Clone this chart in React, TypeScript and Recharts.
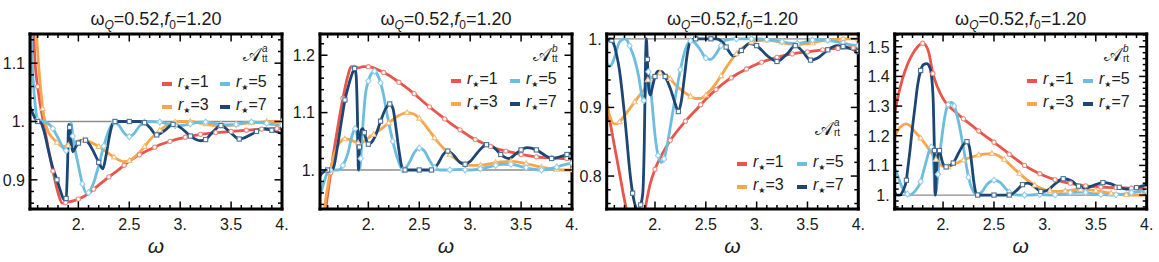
import { LineChart, Line, XAxis, YAxis, ReferenceLine, Legend } from 'recharts'

type Pt = [number, number, number?]

// values: [omega, value, 1 = numerical sample marker]
const p1Red: Pt[] = [[1.525,1.3],[1.55,1.2],[1.575,1.1],[1.6,1.06,1],[1.625,1.03],[1.655,1.0],[1.7,0.958],[1.75,0.915,1],[1.8,0.878],[1.84,0.86],[1.875,0.861,1],[1.9,0.862],[1.95,0.864],[2.0,0.867,1],[2.05,0.871],[2.1,0.877],[2.15,0.884,1],[2.2,0.891],[2.3,0.905,1],[2.4,0.918],[2.45,0.925,1],[2.5,0.932],[2.6,0.943,1],[2.7,0.952],[2.75,0.956,1],[2.8,0.96],[2.9,0.966,1],[3.0,0.971],[3.05,0.973,1],[3.2,0.978,1],[3.35,0.981,1],[3.5,0.983,1],[3.65,0.985,1],[3.8,0.987,1],[3.95,0.988,1],[4.0,0.988]]
const p1Orange: Pt[] = [[1.525,1.35],[1.55,1.27],[1.575,1.19],[1.6,1.12],[1.625,1.065],[1.65,1.022,1],[1.675,0.998],[1.7,0.984],[1.75,0.971],[1.79,0.964,1],[1.85,0.957],[1.9,0.959,1],[1.95,0.963],[2.0,0.967],[2.05,0.968,1],[2.1,0.966],[2.2,0.957,1],[2.3,0.945],[2.35,0.939,1],[2.45,0.931],[2.5,0.933,1],[2.6,0.947],[2.65,0.957,1],[2.7,0.968],[2.8,0.985,1],[2.9,0.996],[2.95,0.999,1],[3.0,1.0],[3.1,1.0,1],[3.2,0.997],[3.25,0.996,1],[3.3,0.994],[3.4,0.993,1],[3.5,0.994],[3.55,0.995,1],[3.6,0.996],[3.7,0.998,1],[3.8,0.999],[3.85,1.0,1],[3.9,1.0],[4.0,1.0,1]]
const p1Sky: Pt[] = [[1.525,1.2],[1.55,1.09],[1.575,1.03],[1.6,1.003,1],[1.625,1.0],[1.65,1.0],[1.7,0.997],[1.75,0.988,1],[1.8,0.972],[1.85,0.955],[1.88,0.95,1],[1.9,0.957],[1.915,0.98],[1.93,0.998],[1.945,0.975,1],[1.97,0.95],[2.0,0.925],[2.04,0.893,1],[2.08,0.877],[2.1,0.878,1],[2.15,0.895],[2.2,0.925],[2.25,0.958,1],[2.3,0.985],[2.35,0.999,1],[2.4,0.993],[2.45,0.98],[2.5,0.974,1],[2.55,0.98],[2.6,0.992],[2.65,0.999,1],[2.7,1.0],[2.8,0.999,1],[2.9,0.995],[2.95,0.993,1],[3.0,0.993],[3.1,0.996,1],[3.2,0.999],[3.25,0.999,1],[3.3,0.998],[3.4,0.995,1],[3.5,0.994],[3.55,0.995,1],[3.6,0.997],[3.7,0.999,1],[3.8,0.998],[3.85,0.997,1],[3.9,0.995],[4.0,0.994,1]]
const p1Navy: Pt[] = [[1.525,1.025],[1.55,1.015],[1.575,1.005],[1.6,1.0,1],[1.63,0.998],[1.675,0.975],[1.7,0.955],[1.75,0.92],[1.79,0.9,1],[1.83,0.878],[1.86,0.866],[1.88,0.868,1],[1.893,0.92],[1.905,0.995],[1.915,0.99,1],[1.93,0.962],[1.945,0.948],[1.97,0.955],[2.0,0.963,1],[2.05,0.968],[2.07,0.968,1],[2.1,0.963],[2.15,0.948],[2.2,0.93,1],[2.24,0.919],[2.27,0.94],[2.3,0.97],[2.33,0.993],[2.36,1.0,1],[2.45,1.0],[2.5,1.0,1],[2.6,1.0],[2.65,0.998,1],[2.7,0.99],[2.77,0.977,1],[2.85,0.985],[2.93,0.995,1],[3.0,0.99],[3.1,0.975,1],[3.2,0.967],[3.25,0.969,1],[3.3,0.978],[3.4,0.993,1],[3.5,0.98],[3.58,0.97,1],[3.7,0.978],[3.75,0.983,1],[3.8,0.988],[3.9,0.985,1],[4.0,0.979]]

const p2Red: Pt[] = [[1.525,0.8],[1.58,0.93],[1.6,0.957],[1.63,0.995,1],[1.65,1.02],[1.7,1.075],[1.75,1.125,1],[1.8,1.165],[1.83,1.18],[1.86,1.179,1],[1.9,1.178],[1.95,1.18],[2.0,1.18,1],[2.05,1.178],[2.1,1.174],[2.15,1.17,1],[2.2,1.165],[2.3,1.153,1],[2.4,1.14],[2.45,1.133,1],[2.5,1.125],[2.6,1.11,1],[2.7,1.096],[2.75,1.089,1],[2.8,1.082],[2.9,1.07,1],[3.0,1.058],[3.05,1.053,1],[3.1,1.049],[3.2,1.041,1],[3.3,1.035],[3.35,1.033,1],[3.4,1.031],[3.5,1.027,1],[3.6,1.024],[3.65,1.023,1],[3.7,1.022],[3.8,1.021,1],[3.9,1.02],[3.95,1.02,1],[4.0,1.019]]
const p2Orange: Pt[] = [[1.525,0.83],[1.55,0.89],[1.575,0.94],[1.6,0.97],[1.63,1.0,1],[1.67,1.03],[1.72,1.048],[1.77,1.054,1],[1.82,1.053],[1.87,1.049],[1.9,1.047,1],[1.92,1.046],[1.96,1.05],[2.0,1.056],[2.05,1.062,1],[2.1,1.068],[2.2,1.082,1],[2.3,1.095],[2.38,1.1,1],[2.45,1.097],[2.5,1.09,1],[2.6,1.068],[2.65,1.056,1],[2.7,1.045],[2.8,1.027,1],[2.9,1.014],[2.95,1.01,1],[3.0,1.008],[3.1,1.008,1],[3.2,1.011],[3.25,1.013,1],[3.3,1.014],[3.4,1.015,1],[3.5,1.013],[3.55,1.011,1],[3.6,1.009],[3.7,1.005,1],[3.8,1.002],[3.85,1.001,1],[3.9,1.0],[4.0,1.0,1]]
const p2Sky: Pt[] = [[1.525,0.955],[1.55,0.97],[1.575,0.985],[1.6,0.996],[1.625,1.0,1],[1.65,1.0],[1.7,1.0],[1.75,1.008,1],[1.8,1.03],[1.84,1.06],[1.87,1.072,1],[1.89,1.06],[1.905,1.02],[1.915,1.0],[1.925,1.02,1],[1.945,1.075],[1.97,1.13],[2.0,1.155,1],[2.03,1.168],[2.06,1.172,1],[2.09,1.166],[2.12,1.152,1],[2.15,1.13],[2.18,1.1],[2.24,1.05,1],[2.29,1.018],[2.34,1.0,1],[2.4,1.012],[2.45,1.03],[2.5,1.038,1],[2.55,1.033],[2.6,1.017],[2.65,1.004,1],[2.7,1.0],[2.8,1.0,1],[2.9,1.001],[2.95,1.0,1],[3.0,1.0],[3.1,1.002,1],[3.2,1.006],[3.25,1.008,1],[3.3,1.01],[3.4,1.01,1],[3.5,1.006],[3.55,1.004,1],[3.6,1.002],[3.7,1.0,1],[3.8,1.003],[3.85,1.005,1],[3.9,1.008],[4.0,1.012,1]]
const p2Navy: Pt[] = [[1.525,0.99],[1.55,0.995],[1.6,1.0,1],[1.64,1.0],[1.66,1.005],[1.7,1.045],[1.74,1.09],[1.77,1.122,1],[1.81,1.15],[1.85,1.172],[1.865,1.177,1],[1.88,1.165],[1.892,1.1],[1.903,1.0],[1.912,1.04,1],[1.93,1.07],[1.945,1.072],[1.96,1.065,1],[1.98,1.052],[2.0,1.045,1],[2.03,1.048],[2.07,1.06],[2.12,1.085,1],[2.17,1.107],[2.21,1.115,1],[2.24,1.108],[2.27,1.075],[2.3,1.035],[2.33,1.005],[2.36,1.0,1],[2.45,1.0],[2.5,1.0,1],[2.62,1.0,1],[2.68,1.01],[2.74,1.028],[2.78,1.033,1],[2.84,1.025],[2.9,1.013],[2.95,1.01,1],[3.0,1.015],[3.08,1.032],[3.16,1.044,1],[3.24,1.038],[3.3,1.027,1],[3.38,1.02],[3.46,1.03],[3.5,1.035,1],[3.56,1.039],[3.65,1.035,1],[3.74,1.025],[3.8,1.02,1],[3.9,1.024],[3.95,1.027,1],[4.0,1.03]]

const p3Red: Pt[] = [[1.525,0.905],[1.55,0.885],[1.6,0.845],[1.65,0.805],[1.7,0.765],[1.75,0.73],[1.8,0.7],[1.85,0.715],[1.9,0.75],[1.95,0.787],[2.0,0.81,1],[2.05,0.826],[2.1,0.84],[2.15,0.852,1],[2.2,0.862],[2.3,0.88,1],[2.4,0.896],[2.45,0.904,1],[2.5,0.912],[2.6,0.926,1],[2.7,0.938],[2.75,0.943,1],[2.8,0.948],[2.9,0.956,1],[3.0,0.963],[3.05,0.966,1],[3.2,0.973,1],[3.35,0.978,1],[3.5,0.981,1],[3.65,0.984,1],[3.8,0.986,1],[3.95,0.987,1],[4.0,0.987]]
const p3Orange: Pt[] = [[1.525,0.905],[1.55,0.89],[1.575,0.88],[1.6,0.876],[1.625,0.876],[1.65,0.879,1],[1.7,0.888],[1.75,0.898],[1.8,0.908,1],[1.85,0.918],[1.9,0.928],[1.93,0.94,1],[1.95,0.942],[2.0,0.947],[2.05,0.95,1],[2.1,0.948],[2.15,0.942,1],[2.2,0.933],[2.3,0.921],[2.35,0.916,1],[2.4,0.913],[2.45,0.913],[2.5,0.918,1],[2.6,0.935],[2.65,0.946,1],[2.7,0.958],[2.8,0.978,1],[2.9,0.991],[2.95,0.995,1],[3.0,0.997],[3.1,0.998,1],[3.2,0.996],[3.25,0.995,1],[3.3,0.993],[3.4,0.992,1],[3.5,0.993],[3.55,0.994,1],[3.6,0.996],[3.7,0.998,1],[3.8,0.999],[3.85,1.0,1],[3.9,1.0],[4.0,1.0,1]]
const p3Sky: Pt[] = [[1.525,0.965],[1.55,0.96],[1.575,0.963],[1.6,0.972],[1.625,0.985],[1.65,0.995],[1.7,1.0],[1.725,0.998],[1.75,0.99,1],[1.8,0.97],[1.84,0.945],[1.87,0.918],[1.89,0.91,1],[1.905,0.92],[1.92,0.945],[1.935,0.952,1],[1.95,0.94],[1.975,0.9],[2.0,0.86],[2.03,0.83,1],[2.06,0.82],[2.09,0.825,1],[2.12,0.845],[2.16,0.88],[2.2,0.915],[2.25,0.955,1],[2.3,0.985],[2.35,0.997,1],[2.4,0.993],[2.45,0.983],[2.5,0.972,1],[2.55,0.97],[2.6,0.978],[2.65,0.99,1],[2.7,0.998],[2.8,1.0,1],[2.9,1.0],[2.95,1.0,1],[3.0,1.0],[3.1,0.999,1],[3.2,0.997],[3.25,0.996,1],[3.3,0.994],[3.4,0.993,1],[3.5,0.996],[3.55,0.998,1],[3.6,0.999],[3.7,0.998,1],[3.8,0.995],[3.85,0.994,1],[3.9,0.992],[4.0,0.99,1]]
const p3Navy: Pt[] = [[1.525,0.995],[1.55,1.0],[1.575,0.998,1],[1.6,0.99],[1.625,0.975],[1.65,0.955],[1.675,0.925],[1.7,0.89],[1.725,0.85],[1.75,0.81],[1.78,0.775,1],[1.8,0.76],[1.83,0.751],[1.86,0.758,1],[1.88,0.775],[1.895,0.85],[1.905,0.95],[1.915,1.0],[1.925,0.97,1],[1.94,0.925],[1.955,0.918],[1.975,0.93],[2.0,0.945,1],[2.03,0.953],[2.07,0.952],[2.1,0.945,1],[2.15,0.928],[2.2,0.905],[2.23,0.894,1],[2.26,0.91],[2.29,0.945],[2.32,0.98],[2.35,0.997],[2.4,1.0,1],[2.5,1.0],[2.55,1.0,1],[2.6,1.0],[2.65,0.997],[2.7,0.988,1],[2.77,0.975],[2.85,0.983,1],[2.93,0.993],[3.0,0.99,1],[3.1,0.976],[3.2,0.967,1],[3.3,0.978],[3.38,0.99,1],[3.45,0.982],[3.53,0.969,1],[3.6,0.972],[3.7,0.984,1],[3.79,0.99],[3.85,0.989,1],[3.9,0.987],[4.0,0.981,1]]

const p4Red: Pt[] = [[1.525,1.275],[1.55,1.32],[1.6,1.39],[1.65,1.44],[1.7,1.475],[1.75,1.5],[1.8,1.512,1],[1.83,1.505],[1.86,1.48],[1.9,1.41,1],[1.95,1.36],[2.0,1.325],[2.05,1.302,1],[2.1,1.287],[2.2,1.257,1],[2.3,1.23],[2.35,1.216,1],[2.4,1.203],[2.5,1.178,1],[2.6,1.152],[2.65,1.138,1],[2.7,1.125],[2.8,1.1,1],[2.9,1.08],[2.95,1.072,1],[3.0,1.064],[3.1,1.052,1],[3.2,1.043],[3.25,1.04,1],[3.3,1.036],[3.4,1.031,1],[3.5,1.028],[3.55,1.027,1],[3.6,1.026],[3.7,1.025,1],[3.8,1.024],[3.85,1.023,1],[3.9,1.023],[4.0,1.022,1]]
const p4Orange: Pt[] = [[1.525,1.195],[1.55,1.215],[1.6,1.235],[1.64,1.24],[1.68,1.232],[1.72,1.215],[1.78,1.192,1],[1.84,1.165],[1.9,1.135],[1.93,1.12,1],[1.95,1.11],[2.0,1.097],[2.05,1.095,1],[2.1,1.102],[2.2,1.118,1],[2.3,1.13],[2.35,1.135,1],[2.4,1.138],[2.48,1.14,1],[2.55,1.132],[2.6,1.12,1],[2.7,1.088],[2.75,1.073,1],[2.8,1.058],[2.9,1.033,1],[3.0,1.018],[3.05,1.014,1],[3.1,1.012],[3.2,1.014,1],[3.3,1.018],[3.35,1.019,1],[3.4,1.019],[3.5,1.015,1],[3.6,1.009],[3.65,1.006,1],[3.7,1.004],[3.8,1.001,1],[3.9,1.0],[3.95,1.001,1],[4.0,1.002]]
const p4Sky: Pt[] = [[1.525,1.09],[1.55,1.07],[1.575,1.045],[1.6,1.025],[1.625,1.01],[1.65,1.003,1],[1.675,1.0],[1.7,1.005],[1.75,1.025],[1.78,1.045,1],[1.8,1.07],[1.84,1.12],[1.87,1.155],[1.885,1.162,1],[1.9,1.14],[1.91,1.08],[1.92,1.0],[1.935,1.02],[1.95,1.07,1],[1.96,1.11],[1.99,1.2],[2.02,1.27],[2.05,1.305,1],[2.08,1.312],[2.11,1.3,1],[2.15,1.25],[2.2,1.16],[2.25,1.06,1],[2.3,1.01],[2.33,1.0],[2.38,1.01],[2.43,1.035],[2.5,1.05,1],[2.56,1.043],[2.62,1.02],[2.65,1.01,1],[2.68,1.003],[2.75,1.0],[2.8,1.0,1],[2.85,1.0],[2.95,1.002,1],[3.05,1.0],[3.1,1.001,1],[3.15,1.003],[3.25,1.008,1],[3.35,1.01],[3.4,1.009,1],[3.45,1.006],[3.55,1.002,1],[3.65,1.0],[3.7,1.001,1],[3.75,1.002],[3.85,1.008,1],[3.95,1.012],[4.0,1.012,1]]
const p4Navy: Pt[] = [[1.525,1.01],[1.55,1.0],[1.575,1.0],[1.6,1.01],[1.625,1.03],[1.64,1.05,1],[1.65,1.08],[1.675,1.15],[1.7,1.23],[1.725,1.3],[1.75,1.37],[1.78,1.42,1],[1.81,1.44],[1.84,1.443],[1.87,1.43],[1.89,1.39],[1.905,1.3],[1.915,1.15,1],[1.925,1.0],[1.935,1.08],[1.95,1.14],[1.965,1.15,1],[1.98,1.13],[2.0,1.105],[2.03,1.095,1],[2.07,1.1],[2.1,1.108,1],[2.15,1.14],[2.2,1.17],[2.235,1.18,1],[2.26,1.16],[2.28,1.11],[2.3,1.05],[2.32,1.01],[2.34,1.0,1],[2.45,1.0],[2.5,1.0,1],[2.65,1.0,1],[2.72,1.015],[2.78,1.035,1],[2.83,1.04],[2.9,1.028],[2.96,1.012,1],[3.02,1.015],[3.1,1.038],[3.18,1.055,1],[3.26,1.048],[3.33,1.03,1],[3.4,1.024],[3.48,1.033],[3.57,1.042,1],[3.65,1.038],[3.73,1.026,1],[3.8,1.02],[3.9,1.025,1],[4.0,1.035]]

const X_DOMAIN = [1.525, 4]
const X_MAJOR = [2, 2.5, 3, 3.5, 4]
const X_LABELS = ['2.', '2.5', '3.', '3.5', '4.']
const R_STAR = [1, 3, 5, 7]

const W = 290, H = 262, TOP = 34, BOTTOM = 209
const FONT = '"Liberation Sans", Arial, Helvetica, sans-serif'
const LINE = ['#E8564B', '#F6A64B', '#6DBDDE', '#1C4673']
const MARK = ['#EE8A80', '#F7BE7A', '#93CEE8', '#4D7199']

const PANELS = [
  { series: [p1Red, p1Orange, p1Sky, p1Navy], y: [0.85, 1.15], yMajor: [0.9, 1, 1.1], yLabels: ['0.9', '1.', '1.1'],
    left: 30, right: 282, sub: 'tt', sup: 'a', tagX: 243, tagY: 44, legX: 162, legY: 72, gap: 58 },
  { series: [p2Red, p2Orange, p2Sky, p2Navy], y: [0.932, 1.237], yMajor: [1, 1.1, 1.2], yLabels: ['1.', '1.1', '1.2'],
    left: 30, right: 282, sub: 'tt', sup: 'b', tagX: 243, tagY: 44, legX: 161, legY: 69, gap: 59 },
  { series: [p3Red, p3Orange, p3Sky, p3Navy], y: [0.752, 1.007], yMajor: [0.8, 0.9, 1], yLabels: ['0.8', '0.9', '1.'],
    left: 26.7, right: 278.3, sub: 'rt', sup: 'a', tagX: 235, tagY: 118, legX: 157, legY: 152, gap: 60 },
  { series: [p4Red, p4Orange, p4Sky, p4Navy], y: [0.953, 1.543], yMajor: [1, 1.1, 1.2, 1.3, 1.4, 1.5], yLabels: ['1.', '1.1', '1.2', '1.3', '1.4', '1.5'],
    left: 24.7, right: 276.7, sub: 'rt', sup: 'b', tagX: 234, tagY: 44, legX: 157, legY: 69, gap: 56 },
]

const rows = (pts: Pt[]) => pts.map(([w, v, m]) => ({ w, v, m: !!m }))

const steps = (a: number, b: number, d: number) => {
  const out: number[] = []
  for (let k = Math.ceil(a / d - 1e-6); k * d <= b + 1e-9; k++) out.push(+(k * d).toFixed(4))
  return out
}

const tickOf = (side: string, majors: number[], labels: string[] = []) => (p: any) => {
  const { x, y, payload } = p
  const k = majors.findIndex(m => Math.abs(m - payload.value) < 1e-6)
  const len = k >= 0 ? 7.5 : 4
  const dx = side === 'left' ? len : side === 'right' ? -len : 0
  const dy = side === 'bottom' ? -len : side === 'top' ? len : 0
  let label = null
  if (k >= 0 && labels.length) {
    label = side === 'bottom'
      ? <text x={x} y={y + 20.5} textAnchor="middle" fontSize={16} fill="#1a1a1a" fontFamily={FONT}>{labels[k]}</text>
      : <text x={x - 5} y={y + 5.8} textAnchor="end" fontSize={16} fill="#1a1a1a" fontFamily={FONT}>{labels[k]}</text>
  }
  return (
    <g>
      <line x1={x} y1={y} x2={x + dx} y2={y + dy} stroke="#000" strokeWidth={1.5} />
      {label}
    </g>
  )
}

const dotOf = (shape: number, stroke: string) => (p: any) => {
  const { cx, cy, payload, index } = p
  if (!payload || !payload.m || cx == null || cy == null) return <g key={`n${index}`} />
  const k = `d${index}`
  if (shape === 0) return <circle key={k} cx={cx} cy={cy} r={2.1} fill="#fff" stroke={stroke} strokeWidth={1.1} />
  if (shape === 1) return <polygon key={k} points={`${cx},${cy - 2.8} ${cx + 2.6},${cy + 1.8} ${cx - 2.6},${cy + 1.8}`} fill="#fff" stroke={stroke} strokeWidth={1.1} />
  if (shape === 2) return <polygon key={k} points={`${cx},${cy - 3} ${cx + 2.6},${cy} ${cx},${cy + 3} ${cx - 2.6},${cy}`} fill="#fff" stroke={stroke} strokeWidth={1.1} />
  return <rect key={k} x={cx - 2.1} y={cy - 2.1} width={4.2} height={4.2} fill="#fff" stroke={stroke} strokeWidth={1.1} />
}

function Keys({ gap }: { gap: number }) {
  const grid = [[0, 2], [1, 3]]
  return (
    <div style={{ fontFamily: FONT, fontSize: 16, color: '#222', lineHeight: '18px' }}>
      {grid.map((row, ri) => (
        <div key={ri} style={{ display: 'flex', height: 23, alignItems: 'center' }}>
          {row.map(i => (
            <div key={i} style={{ display: 'flex', alignItems: 'center', width: gap }}>
              <span style={{ width: 10, height: 4, background: LINE[i], marginRight: 6, flexShrink: 0 }} />
              <span style={{ whiteSpace: 'nowrap' }}>
                <i>r</i><span style={{ fontSize: 8, position: 'relative', top: 3, fontFamily: 'DejaVu Sans' }}>★</span>={R_STAR[i]}
              </span>
            </div>
          ))}
        </div>
      ))}
    </div>
  )
}

function Panel({ cfg, index }: { cfg: typeof PANELS[number]; index: number }) {
  const { left, right, y } = cfg
  const mid = (left + right) / 2
  const xTicks = steps(1.6, 4, 0.1)
  const yTicks = steps(y[0], y[1], 0.02)
  const axisLine = { stroke: '#000', strokeWidth: 3, strokeLinecap: 'square' as const }
  return (
    <div style={{ position: 'absolute', left: index * W, top: 0, width: W, height: H, fontFamily: FONT, color: '#1a1a1a' }}>
      <LineChart width={W} height={H} margin={{ top: TOP - 1, bottom: H - BOTTOM - 1, left: left - 1, right: W - right - 1 }}>
        <XAxis xAxisId={0} type="number" dataKey="w" domain={X_DOMAIN} allowDataOverflow ticks={xTicks} interval={0}
          height={1} tickSize={0} tickMargin={0} tickLine={false} axisLine={axisLine} tick={tickOf('bottom', X_MAJOR, X_LABELS)} />
        <XAxis xAxisId="t" orientation="top" type="number" dataKey="w" domain={X_DOMAIN} allowDataOverflow ticks={xTicks} interval={0}
          height={1} tickSize={0} tickMargin={0} tickLine={false} axisLine={axisLine} tick={tickOf('top', X_MAJOR)} />
        <YAxis yAxisId={0} type="number" domain={y} allowDataOverflow ticks={yTicks} interval={0}
          width={1} tickSize={0} tickMargin={0} tickLine={false} axisLine={axisLine} tick={tickOf('left', cfg.yMajor, cfg.yLabels)} />
        <YAxis yAxisId="r" orientation="right" type="number" domain={y} allowDataOverflow ticks={yTicks} interval={0}
          width={1} tickSize={0} tickMargin={0} tickLine={false} axisLine={axisLine} tick={tickOf('right', cfg.yMajor)} />
        <ReferenceLine y={1} stroke="#8c8c8c" strokeWidth={1.3} />
        {cfg.series.map((s, i) => (
          <Line key={i} data={rows(s)} dataKey="v" type="monotone" stroke={LINE[i]} strokeWidth={2.8}
            dot={dotOf(i, MARK[i])} activeDot={false} isAnimationActive={false} />
        ))}
        <Legend layout="vertical" align="center" verticalAlign="middle"
          wrapperStyle={{ left: cfg.legX, top: cfg.legY, width: 'auto', height: 'auto' }}
          content={() => <Keys gap={cfg.gap} />} />
      </LineChart>
      <div style={{ position: 'absolute', left: mid - 110, width: 220, top: 9, textAlign: 'center', fontSize: 18, lineHeight: '20px', whiteSpace: 'nowrap' }}>
        ω<span style={{ fontSize: 12, position: 'relative', top: 4, fontStyle: 'italic' }}>Q</span>=0.52,<i>f</i><span style={{ fontSize: 12, position: 'relative', top: 4 }}>0</span>=1.20
      </div>
      <div style={{ position: 'absolute', left: mid - 30, width: 60, top: 234, textAlign: 'center', fontSize: 21, lineHeight: '24px', fontStyle: 'italic' }}>ω</div>
      <div style={{ position: 'absolute', left: cfg.tagX, top: cfg.tagY, display: 'flex', alignItems: 'center', height: 20 }}>
        <span style={{ fontSize: 19, fontFamily: '"DejaVu Serif", serif' }}>𝒜</span>
        <span style={{ display: 'inline-flex', flexDirection: 'column', fontSize: 10, lineHeight: '10px', marginLeft: 1 }}>
          <span style={{ fontStyle: 'italic' }}>{cfg.sup}</span>
          <span>{cfg.sub}</span>
        </span>
      </div>
    </div>
  )
}

export default function App() {
  return (
    <div style={{ position: 'absolute', left: 0, top: 0, width: 1159, height: H, background: '#fff' }}>
      <style>{'.recharts-surface { overflow: visible; }'}</style>
      {PANELS.map((cfg, i) => <Panel key={i} cfg={cfg} index={i} />)}
    </div>
  )
}
